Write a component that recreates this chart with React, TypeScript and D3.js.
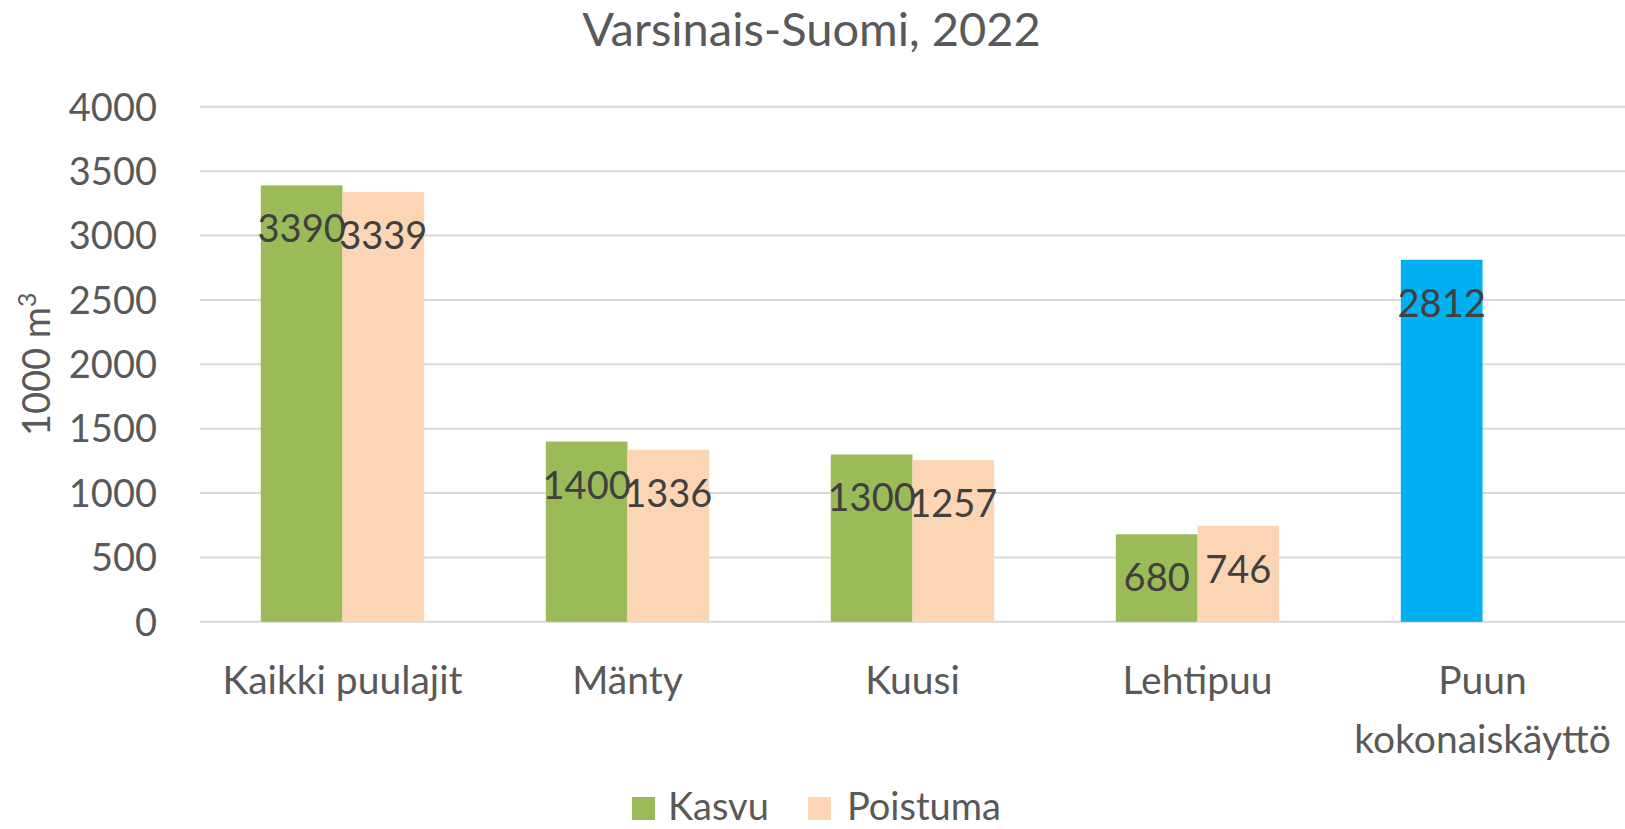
import * as d3 from 'd3';

const title = 'Varsinais-Suomi, 2022';
const categories = ['Kaikki puulajit', 'Mänty', 'Kuusi', 'Lehtipuu', 'Puun kokonaiskäyttö'];
const categoryLines = [['Kaikki puulajit'], ['Mänty'], ['Kuusi'], ['Lehtipuu'], ['Puun', 'kokonaiskäyttö']];
const seriesNames = ['Kasvu', 'Poistuma'];
const kasvu = [3390, 1400, 1300, 680, 2812];
const poistuma = [3339, 1336, 1257, 746, null];
const yTicks = [0, 500, 1000, 1500, 2000, 2500, 3000, 3500, 4000];

const seriesColors = ['#9BBB59', '#FCD5B5'];
const totalColor = '#00B0F0'; // last Kasvu point is recoloured
const font = "Lato, 'Open Sans', sans-serif";
const textGray = '#595959';

const W = 1625, H = 829;
const fs = 38;

export default function App() {
	const y = d3.scaleLinear().domain([0, 4000]).range([621.8, 106.8]);
	const x = d3.scaleBand().domain(categories).range([200, 1625]).paddingInner(0.4267).paddingOuter(0.2133);
	const xs = d3.scaleBand().domain(seriesNames).range([0, x.bandwidth()]);

	const series = [kasvu, poistuma];

	return (
		<svg width={W} height={H} style={{ position: 'absolute', left: 0, top: 0, background: '#fff' }} fontFamily={font}>
			<text x={811.5} y={46} textAnchor="middle" fontSize={47} fill={textGray}>{title}</text>

			{yTicks.map(t => (
				<g key={t}>
					<line x1={200} x2={W} y1={y(t)} y2={y(t)} stroke="#D9D9D9" strokeWidth={2} />
					<text x={157} y={y(t) + 13.7} textAnchor="end" fontSize={fs} fill={textGray}>{t}</text>
				</g>
			))}

			<text transform={`translate(49.5, ${(y(0) + y(4000)) / 2}) rotate(-90)`} textAnchor="middle" fontSize={fs} fill={textGray}>
				1000 m<tspan fontSize={fs * 0.65} dy={-14}>3</tspan>
			</text>

			{series.map((vals, si) => vals.map((v, ci) => {
				if (v == null) return null;
				const bx = (x(categories[ci]) ?? 0) + (xs(seriesNames[si]) ?? 0);
				const fill = si === 0 && ci === categories.length - 1 ? totalColor : seriesColors[si];
				return (
					<rect key={`${si}-${ci}`} x={bx} y={y(v)} width={xs.bandwidth()} height={y(0) - y(v)} fill={fill} />
				);
			}))}

			{series.map((vals, si) => vals.map((v, ci) => {
				if (v == null) return null;
				const cx = (x(categories[ci]) ?? 0) + (xs(seriesNames[si]) ?? 0) + xs.bandwidth() / 2;
				return (
					<text key={`l${si}-${ci}`} x={cx} y={y(v) + 57} textAnchor="middle" fontSize={fs} fill="#404040">{v}</text>
				);
			}))}

			{categoryLines.map((lines, ci) => {
				const cx = (x(categories[ci]) ?? 0) + x.bandwidth() / 2;
				return (
					<text key={ci} x={cx} y={694} textAnchor="middle" fontSize={39} fill={textGray}>
						{lines.map((l, i) => (
							<tspan key={i} x={cx} dy={i === 0 ? 0 : 58.5}>{l}</tspan>
						))}
					</text>
				);
			})}

			<rect x={632} y={797} width={23} height={23} fill={seriesColors[0]} />
			<text x={668} y={820} fontSize={fs} fill={textGray}>{seriesNames[0]}</text>
			<rect x={808} y={797} width={23} height={23} fill={seriesColors[1]} />
			<text x={847} y={820} fontSize={fs} fill={textGray}>{seriesNames[1]}</text>
		</svg>
	);
}
